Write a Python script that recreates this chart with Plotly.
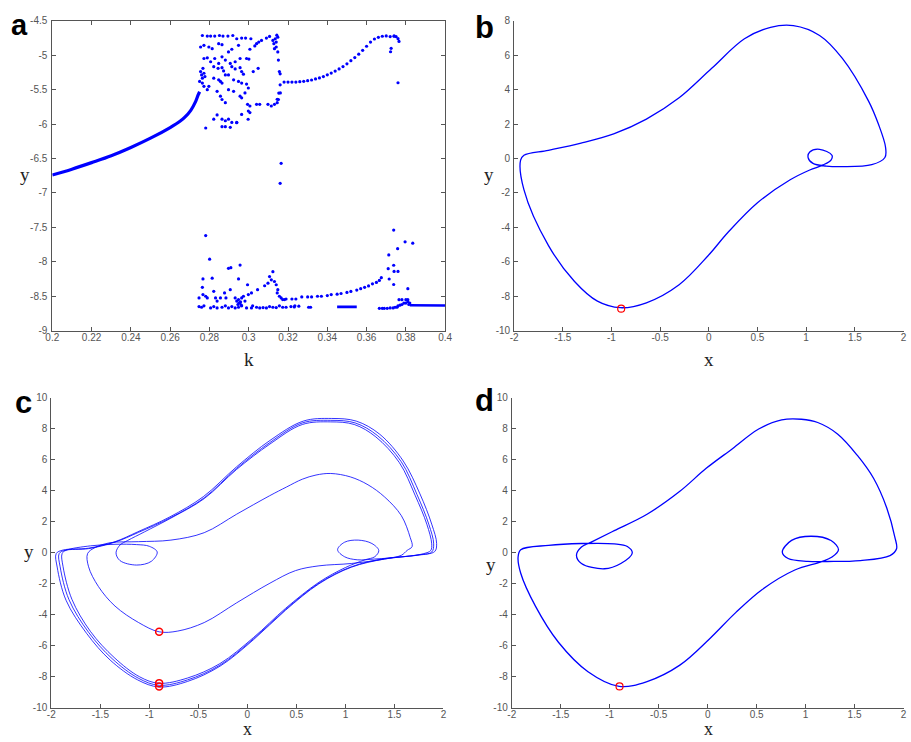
import plotly.graph_objects as go

# ---------------- Panel a : bifurcation diagram ----------------
branch_k = [0.200, 0.210, 0.220, 0.230, 0.240, 0.250, 0.260, 0.265, 0.2675, 0.2705, 0.273, 0.2742, 0.2750]
branch_y = [-6.74, -6.655, -6.56, -6.46, -6.34, -6.205, -6.05, -5.96, -5.90, -5.80, -5.67, -5.58, -5.53]

upper_k = [0.2764, 0.2789, 0.2806, 0.2827, 0.2851, 0.2869, 0.2894, 0.2919, 0.2939, 0.2964, 0.2984, 0.3011,
           0.3040, 0.3051, 0.3065, 0.3090, 0.3106, 0.3123, 0.3135, 0.3148,
           0.2755, 0.2772, 0.2797, 0.2814, 0.2847, 0.2864, 0.2897, 0.2914, 0.2948, 0.3006, 0.3031,
           0.3128, 0.3140, 0.3148, 0.3151, 0.3156,
           0.2772, 0.2789, 0.2806, 0.2827, 0.2847, 0.2864, 0.2881, 0.2906, 0.2931, 0.2956, 0.2989, 0.3001,
           0.2822, 0.2844, 0.2864, 0.2872, 0.2914, 0.2931, 0.2956, 0.2964, 0.2973, 0.3023, 0.3048,
           0.2755, 0.2760, 0.2764, 0.2772, 0.2750, 0.2764, 0.2772, 0.2777, 0.2767,
           0.2822, 0.2847, 0.2856, 0.2864, 0.2881, 0.2897, 0.2923, 0.2948, 0.2964, 0.2989, 0.2998,
           0.2797, 0.2789, 0.2839, 0.2856, 0.2864, 0.2881, 0.2897, 0.2923, 0.2956, 0.2964, 0.2981,
           0.2994, 0.3006, 0.2998, 0.3006, 0.3040, 0.3056, 0.3098, 0.3115, 0.3131, 0.3145, 0.3151, 0.3161,
           0.3160, 0.3143, 0.3140, 0.3131, 0.3160, 0.3153, 0.3145,
           0.2839, 0.2822, 0.2864, 0.2881, 0.2897, 0.2914, 0.2939, 0.2781, 0.2864, 0.2881, 0.2906,
           0.2997, 0.2964, 0.2939, 0.3165, 0.3160,
           0.3725, 0.3722, 0.3760, 0.3765, 0.3740]
upper_y = [-4.714, -4.723, -4.723, -4.723, -4.714, -4.723, -4.723, -4.714, -4.761, -4.752, -4.752, -4.761,
           -4.833, -4.809, -4.785, -4.752, -4.728, -4.785, -4.761, -4.738,
           -4.881, -4.857, -4.881, -4.905, -4.833, -4.847, -4.952, -4.914, -4.857, -4.914, -4.866,
           -4.833, -4.881, -4.952, -5.071, -5.238,
           -5.048, -5.038, -5.095, -5.048, -5.119, -5.024, -5.071, -5.119, -5.095, -5.048, -5.048, -5.057,
           -5.167, -5.190, -5.181, -5.228, -5.167, -5.200, -5.181, -5.238, -5.276, -5.238, -5.190,
           -5.238, -5.286, -5.333, -5.262, -5.381, -5.405, -5.452, -5.310, -5.190,
           -5.333, -5.357, -5.381, -5.405, -5.286, -5.286, -5.357, -5.381, -5.405, -5.419, -5.476,
           -5.452, -5.500, -5.524, -5.595, -5.643, -5.690, -5.500, -5.524, -5.595, -5.619, -5.548,
           -5.714, -5.738, -5.810, -5.833, -5.714, -5.714, -5.714, -5.738, -5.714, -5.690, -5.643, -5.548,
           -5.27, -4.71, -4.81, -4.905, -5.43, -5.55, -5.64,
           -5.867, -5.929, -5.929, -5.952, -5.929, -5.976, -5.976, -6.057, -6.038, -6.038, -6.048,
           -5.93, -5.86, -5.98, -6.57, -6.86,
           -4.90, -4.95, -5.40, -4.80, -4.72]

ubranch_k = [0.318, 0.320, 0.322, 0.324, 0.326, 0.328, 0.330, 0.332, 0.334, 0.336, 0.338, 0.340, 0.342,
             0.344, 0.346, 0.348, 0.350, 0.352, 0.354, 0.356, 0.358, 0.360, 0.362, 0.364, 0.366, 0.368,
             0.370, 0.372, 0.374, 0.375, 0.376]
ubranch_y = [-5.39, -5.39, -5.39, -5.39, -5.385, -5.38, -5.37, -5.36, -5.345, -5.33, -5.31, -5.285, -5.26,
             -5.23, -5.20, -5.165, -5.125, -5.08, -5.035, -4.985, -4.93, -4.87, -4.81, -4.765, -4.74, -4.725,
             -4.72, -4.73, -4.725, -4.73, -4.76]

lower_k = [0.2781, 0.2801, 0.2767, 0.2814, 0.2764, 0.2747, 0.2767, 0.2781, 0.2789, 0.2822, 0.2831, 0.2839,
           0.2856, 0.2877, 0.2884, 0.2906, 0.2897, 0.2909, 0.2956, 0.2948, 0.2994, 0.2998, 0.2973, 0.2931,
           0.2939, 0.2948, 0.2956, 0.2964, 0.2981, 0.3014, 0.3045, 0.3081, 0.3098, 0.3106, 0.3123, 0.3115,
           0.3131, 0.3140, 0.3148, 0.3145, 0.3156, 0.3165, 0.3173, 0.3182,
           0.2747, 0.2760, 0.2772, 0.2806, 0.2822, 0.2839, 0.2864, 0.2881, 0.2897, 0.2914, 0.2931, 0.2948,
           0.2964, 0.2989, 0.3014, 0.3040, 0.3056, 0.3073, 0.3090, 0.3106, 0.3123, 0.3140, 0.3156, 0.3173,
           0.3190, 0.3215, 0.3232, 0.2950, 0.2945, 0.2958, 0.2962, 0.3020,
           0.3235, 0.3255, 0.3305, 0.3315,
           0.3665, 0.3680, 0.3690, 0.3705, 0.3720, 0.3735, 0.3745, 0.3755, 0.3760, 0.3770, 0.3780, 0.3790,
           0.3800, 0.3810, 0.3815, 0.3820, 0.3780, 0.3800, 0.3810, 0.3765]
lower_y = [-7.619, -7.962, -8.248, -8.238, -8.371, -8.524, -8.476, -8.500, -8.524, -8.429, -8.524, -8.571,
           -8.524, -8.452, -8.524, -8.405, -8.095, -8.086, -8.048, -8.248, -8.333, -8.476, -8.500, -8.524,
           -8.571, -8.548, -8.595, -8.524, -8.571, -8.452, -8.405, -8.348, -8.310, -8.214, -8.143, -8.262,
           -8.286, -8.333, -8.405, -8.452, -8.500, -8.524, -8.548, -8.548,
           -8.650, -8.660, -8.640, -8.670, -8.650, -8.670, -8.660, -8.640, -8.670, -8.650, -8.670, -8.660,
           -8.640, -8.670, -8.670, -8.660, -8.670, -8.665, -8.670, -8.650, -8.660, -8.665, -8.640, -8.660,
           -8.660, -8.650, -8.655, -8.60, -8.62, -8.58, -8.63, -8.64,
           -8.640, -8.645, -8.660, -8.660,
           -8.675, -8.675, -8.675, -8.675, -8.670, -8.670, -8.660, -8.660, -8.640, -8.630, -8.620, -8.600,
           -8.600, -8.580, -8.620, -8.600, -8.550, -8.550, -8.550, -8.550]

lbranch_k = [0.319, 0.322, 0.324, 0.327, 0.330, 0.332, 0.335, 0.337, 0.340, 0.342, 0.345, 0.347, 0.350,
             0.352, 0.355, 0.357, 0.359, 0.361, 0.363, 0.365, 0.3665, 0.3675,
             0.3713, 0.3710, 0.3738, 0.3738, 0.3740, 0.3738, 0.3758, 0.3760, 0.3796, 0.3835, 0.3810, 0.3715]
lbranch_y = [-8.54, -8.54, -8.54, -8.51, -8.51, -8.51, -8.50, -8.50, -8.49, -8.476, -8.47, -8.46, -8.445,
             -8.43, -8.41, -8.39, -8.37, -8.35, -8.32, -8.30, -8.27, -8.23,
             -7.90, -8.10, -7.54, -8.05, -8.14, -8.33, -7.81, -8.14, -7.71, -7.73, -8.39, -8.25]

band1_k = [0.345, 0.355]
band1_y = [-8.655, -8.655]
band2_k = [0.382, 0.400]
band2_y = [-8.63, -8.635]

# ---------------- Panel b : period-1 orbit ----------------
bx = [-0.909, -0.641, -0.305, -0.003, 0.198, 0.500, 0.836, 1.037, 1.171, 1.255, 1.265, 1.138, 1.037, 1.020,
      1.070, 1.205, 1.372, 1.674, 1.809, 1.815, 1.742, 1.641, 1.372, 1.138, 0.869, 0.634, 0.366, 0.030,
      -0.305, -0.641, -0.977, -1.312, -1.648, -1.899, -1.933, -1.899, -1.648, -1.379, -1.144, -0.909]
by = [-8.667, -8.381, -7.333, -5.619, -4.286, -2.571, -1.238, -0.667, -0.381, -0.095, 0.190, 0.533, 0.381,
      0.057, -0.286, -0.438, -0.476, -0.362, 0.057, 0.667, 2.000, 3.333, 5.810, 7.143, 7.714, 7.619, 6.952,
      5.238, 3.524, 2.286, 1.429, 0.895, 0.476, 0.190, -0.095, -1.810, -5.048, -7.143, -8.286, -8.667]
b_mark_x = [-0.90]
b_mark_y = [-8.72]

# ---------------- Panel c : chaotic / multi-loop orbit ----------------
cAx = [-0.90, -0.61, -0.28, 0.06, 0.39, 0.73, 1.06, 1.40, 1.74, 1.91, 1.93, 1.88, 1.76, 1.59, 1.35, 1.11, 0.86,
       0.57, 0.23, -0.11, -0.45, -0.79, -1.12, -1.35, -1.62, -1.88, -1.95, -1.94, -1.85, -1.64, -1.40, -1.12, -0.90]
cAy = [-8.66, -8.30, -7.32, -5.62, -3.70, -2.00, -0.93, -0.40, -0.14, 0.08, 0.60, 1.85, 3.80, 5.92, 7.65, 8.50,
       8.67, 8.50, 7.25, 5.55, 3.62, 2.32, 1.35, 0.72, 0.30, 0.18, -0.05, -0.92, -3.06, -5.20, -6.92, -8.20, -8.66]
cBx = [-0.90, -0.61, -0.28, 0.06, 0.39, 0.73, 1.06, 1.40, 1.73, 1.88, 1.90, 1.85, 1.73, 1.57, 1.33, 1.10, 0.85,
       0.56, 0.23, -0.11, -0.44, -0.78, -1.11, -1.35, -1.62, -1.86, -1.92, -1.91, -1.82, -1.62, -1.38, -1.11, -0.90]
cBy = [-8.55, -8.20, -7.25, -5.56, -3.65, -1.96, -0.90, -0.37, -0.16, 0.05, 0.58, 1.85, 3.76, 5.87, 7.55, 8.38,
       8.55, 8.38, 7.12, 5.45, 3.55, 2.28, 1.32, 0.69, 0.27, 0.16, -0.05, -0.90, -3.02, -5.13, -6.83, -8.10, -8.55]
cCx = [-0.90, -0.61, -0.28, 0.06, 0.39, 0.73, 1.00, 1.20, 1.30, 1.34, 1.27, 1.13, 0.99, 0.92, 0.99, 1.12, 1.30,
       1.60, 1.80, 1.87, 1.88, 1.83, 1.71, 1.55, 1.31, 1.09, 0.85, 0.56, 0.23, -0.11, -0.44, -0.78, -1.05, -1.22,
       -1.30, -1.34, -1.30, -1.13, -0.98, -0.92, -1.00, -1.13, -1.35, -1.60, -1.85, -1.89, -1.88, -1.79, -1.60,
       -1.36, -1.10, -0.90]
cCy = [-8.42, -8.08, -7.15, -5.48, -3.58, -1.90, -0.95, -0.45, -0.25, 0.15, 0.60, 0.82, 0.68, 0.20, -0.25, -0.45,
       -0.40, -0.25, -0.05, 0.15, 0.58, 1.85, 3.72, 5.82, 7.48, 8.28, 8.45, 8.28, 7.02, 5.38, 3.50, 2.24, 1.35,
       0.80, 0.50, 0.00, -0.50, -0.79, -0.55, 0.05, 0.42, 0.53, 0.55, 0.45, 0.16, -0.05, -0.90, -3.00, -5.08,
       -6.75, -8.00, -8.42]
cDx = [-0.90, -0.71, -0.44, -0.11, 0.23, 0.49, 0.73, 1.06, 1.40, 1.57, 1.63, 1.68, 1.66, 1.57, 1.40, 1.23, 1.05,
       0.85, 0.70, 0.56, 0.40, 0.226, -0.11, -0.44, -0.78, -1.11, -1.40, -1.55, -1.63, -1.62, -1.52, -1.35,
       -1.11, -0.90]
cDy = [-5.10, -5.05, -4.50, -3.23, -1.96, -1.15, -0.84, -0.69, -0.40, -0.16, 0.16, 0.40, 1.00, 2.40, 3.60, 4.39,
       4.90, 5.12, 5.02, 4.75, 4.25, 3.68, 2.49, 1.30, 0.82, 0.72, 0.65, 0.35, -0.05, -0.90, -2.17, -3.44,
       -4.50, -5.10]
c_mark_x = [-0.90, -0.90, -0.90]
c_mark_y = [-5.09, -8.41, -8.63]

# ---------------- Panel d : period-1 orbit with two loops ----------------
dx = [-0.904, -0.619, -0.284, 0.018, 0.286, 0.554, 0.890, 1.158, 1.270, 1.336, 1.260, 1.057, 0.857, 0.762,
      0.822, 1.023, 1.224, 1.560, 1.862, 1.929, 1.912, 1.828, 1.694, 1.527, 1.326, 1.124, 0.957, 0.756, 0.521,
      0.253, -0.015, -0.284, -0.619, -0.954, -1.189, -1.289, -1.340, -1.289, -1.055, -0.887, -0.770, -0.820,
      -0.954, -1.289, -1.625, -1.909, -1.936, -1.909, -1.759, -1.524, -1.222, -0.904]
dy = [-8.62, -8.31, -7.25, -5.56, -3.86, -2.38, -1.11, -0.58, -0.27, 0.20, 0.79, 1.07, 0.80, 0.05, -0.37,
      -0.55, -0.56, -0.50, -0.18, 0.26, 1.00, 2.91, 4.81, 6.30, 7.67, 8.41, 8.62, 8.58, 7.99, 6.72, 5.45, 3.97,
      2.49, 1.43, 0.69, 0.37, -0.16, -0.69, -1.03, -0.69, -0.01, 0.41, 0.58, 0.60, 0.48, 0.20, -0.27, -1.32,
      -3.44, -5.77, -7.67, -8.62]
d_mark_x = [-0.90]
d_mark_y = [-8.62]

# tick labels
a_xticks = [0.2, 0.22, 0.24, 0.26, 0.28, 0.3, 0.32, 0.34, 0.36, 0.38, 0.4]
a_xtext = ["0.2", "0.22", "0.24", "0.26", "0.28", "0.3", "0.32", "0.34", "0.36", "0.38", "0.4"]
a_yticks = [-9, -8.5, -8, -7.5, -7, -6.5, -6, -5.5, -5, -4.5]
a_ytext = ["-9", "-8.5", "-8", "-7.5", "-7", "-6.5", "-6", "-5.5", "-5", "-4.5"]
x_ticks = [-2, -1.5, -1, -0.5, 0, 0.5, 1, 1.5, 2]
x_text = ["-2", "-1.5", "-1", "-0.5", "0", "0.5", "1", "1.5", "2"]
b_yticks = [-10, -8, -6, -4, -2, 0, 2, 4, 6, 8]
cd_yticks = [-10, -8, -6, -4, -2, 0, 2, 4, 6, 8, 10]

BLUE = "#0000ff"
fig = go.Figure()

# panel a
fig.add_trace(go.Scatter(x=branch_k, y=branch_y, mode="lines", line=dict(color=BLUE, width=3.2, shape="spline"),
                         xaxis="x", yaxis="y"))
for kk, yy in [(upper_k, upper_y), (ubranch_k, ubranch_y), (lower_k, lower_y), (lbranch_k, lbranch_y)]:
    fig.add_trace(go.Scatter(x=kk, y=yy, mode="markers", marker=dict(color=BLUE, size=3.2),
                             xaxis="x", yaxis="y"))
for kk, yy in [(band1_k, band1_y), (band2_k, band2_y)]:
    fig.add_trace(go.Scatter(x=kk, y=yy, mode="lines", line=dict(color=BLUE, width=2.6), xaxis="x", yaxis="y"))

# panel b
fig.add_trace(go.Scatter(x=bx, y=by, mode="lines", line=dict(color=BLUE, width=1.3, shape="spline", smoothing=1.0),
                         xaxis="x2", yaxis="y2"))
fig.add_trace(go.Scatter(x=b_mark_x, y=b_mark_y, mode="markers",
                         marker=dict(symbol="circle-open", color="red", size=7, line=dict(width=1.2)),
                         xaxis="x2", yaxis="y2"))

# panel c
for xx, yy in [(cAx, cAy), (cBx, cBy), (cCx, cCy), (cDx, cDy)]:
    fig.add_trace(go.Scatter(x=xx, y=yy, mode="lines",
                             line=dict(color="rgba(0,0,255,0.8)", width=1.0, shape="spline", smoothing=1.0),
                             xaxis="x3", yaxis="y3"))
fig.add_trace(go.Scatter(x=c_mark_x, y=c_mark_y, mode="markers",
                         marker=dict(symbol="circle-open", color="red", size=7, line=dict(width=1.5)),
                         xaxis="x3", yaxis="y3"))

# panel d
fig.add_trace(go.Scatter(x=dx, y=dy, mode="lines", line=dict(color=BLUE, width=1.3, shape="spline", smoothing=1.0),
                         xaxis="x4", yaxis="y4"))
fig.add_trace(go.Scatter(x=d_mark_x, y=d_mark_y, mode="markers",
                         marker=dict(symbol="circle-open", color="red", size=7, line=dict(width=1.2)),
                         xaxis="x4", yaxis="y4"))

W, H = 911, 742
AX_COL = "#555555"
TICKFONT = dict(family="Liberation Sans, Arial, sans-serif", size=10, color="#555555")


def axis(domain, rng, tickvals, ticktext, anchor, mirror=False, standoff=0):
    return dict(domain=domain, range=rng, tickvals=tickvals, ticktext=ticktext, anchor=anchor,
                showline=True, linecolor=AX_COL, linewidth=1, mirror=mirror, ticks="inside",
                ticklen=4, tickcolor=AX_COL, showgrid=False, zeroline=False, tickfont=TICKFONT,
                fixedrange=True, ticklabelstandoff=standoff)


ax_a = [46 / W, 445 / W]
ay_top = [(H - 330) / H, (H - 15) / H]
ax_b = [515 / W, 1.0]
ax_c = [45 / W, 443.3 / W]
ax_d = [512.7 / W, 1.0]
ay_bot = [(H - 713.3) / H, (H - 398.3) / H]

fig.update_layout(
    width=W, height=H, margin=dict(l=0, r=0, t=0, b=0),
    paper_bgcolor="white", plot_bgcolor="white", showlegend=False,
    xaxis=axis(ax_a, [0.2, 0.4], a_xticks, a_xtext, "y", mirror="allticks", standoff=-3),
    yaxis=axis(ay_top, [-9, -4.5], a_yticks, a_ytext, "x", mirror="allticks", standoff=2),
    xaxis2=axis(ax_b, [-2, 2.005], x_ticks, x_text, "y2", standoff=-3),
    yaxis2=axis(ay_top, [-10, 8], b_yticks, [str(v) for v in b_yticks], "x2", standoff=1),
    xaxis3=axis(ax_c, [-2, 2], x_ticks, x_text, "y3", standoff=-3),
    yaxis3=axis(ay_bot, [-10, 10], cd_yticks, [str(v) for v in cd_yticks], "x3", standoff=1),
    xaxis4=axis(ax_d, [-2, 2.005], x_ticks, x_text, "y4", standoff=-3),
    yaxis4=axis(ay_bot, [-10, 10], cd_yticks, [str(v) for v in cd_yticks], "x4", standoff=1),
)

SERIF = dict(family="Liberation Serif, Times New Roman, serif", size=19, color="#222222")
SERIF_B = dict(family="Liberation Serif, Times New Roman, serif", size=18, color="#222222")
BOLD = dict(family="Liberation Sans, Arial, sans-serif", size=31, color="black")
BOLD_A = dict(family="Liberation Sans, Arial, sans-serif", size=29, color="black")


def ann(text, px, py, font, yanchor="middle"):
    fig.add_annotation(text=text, x=px / W, y=1 - py / H, xref="paper", yref="paper",
                       showarrow=False, font=font, xanchor="center", yanchor=yanchor)


ann("<b>a</b>", 13, 19, BOLD_A)
ann("<b>b</b>", 485, 22, BOLD)
ann("<b>c</b>", 17, 403, BOLD)
ann("<b>d</b>", 485, 401, BOLD)
ann("k", 246, 359, SERIF)
ann("y", 18, 171, SERIF)
ann("y", 490, 171, SERIF)
ann("x", 713, 359, SERIF)
ann("y", 22, 554, SERIF)
ann("x", 244, 747, SERIF_B, yanchor="bottom")
ann("y", 492, 568, SERIF)
ann("x", 712, 747, SERIF_B, yanchor="bottom")

fig.write_html("out.html")
